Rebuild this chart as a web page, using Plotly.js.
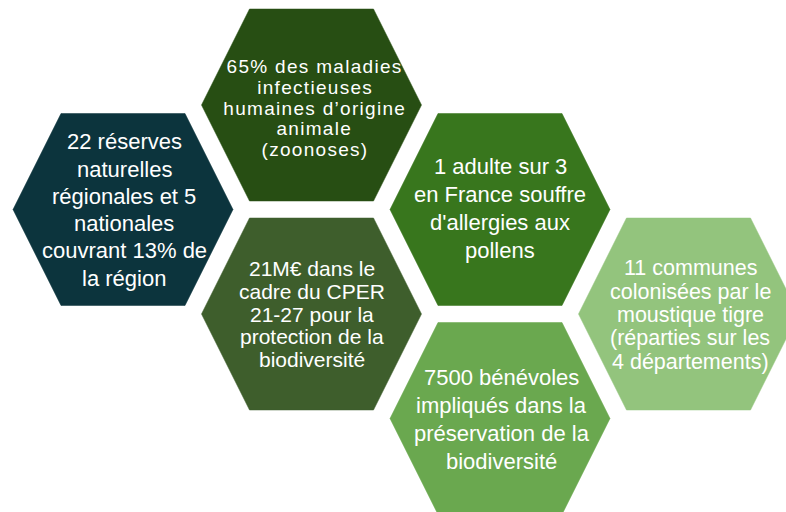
<!DOCTYPE html>
<html>
<head>
<meta charset="utf-8">
<script src="https://cdn.plot.ly/plotly-3.0.1.min.js"></script>
<style>
  html, body { margin: 0; padding: 0; background: #ffffff; }
  #chart { width: 786px; height: 512px; }
</style>
</head>
<body>
<div id="chart"></div>
<script>
// ---- Data: one statement per hexagonal tile ----
const statementLines = [
  ["22 réserves", "naturelles", "régionales et 5", "nationales", "couvrant 13% de", "la région"],
  ["65% des maladies", "infectieuses", "humaines d’origine", "animale", "(zoonoses)"],
  ["21M€ dans le", "cadre du CPER", "21-27 pour la", "protection de la", "biodiversité"],
  ["1 adulte sur 3", "en France souffre", "d'allergies aux", "pollens"],
  ["7500 bénévoles", "impliqués dans la", "préservation de la", "biodiversité"],
  ["11 communes", "colonisées par le", "moustique tigre", "(réparties sur les", "4 départements)"]
];
// honeycomb cell of each tile (column, half-row)
const gridColumn = [0, 1, 1, 2, 2, 3];
const gridRow    = [1, 0, 2, 1, 3, 2];

// ---- Styles ----
const tileColors = ["#0c343d", "#274e13", "#3e5e2c", "#38761d", "#6aa84f", "#93c47d"];
const fontSizes  = [22, 19, 21, 22, 22, 21.5];
const lineGaps   = [27.3, 20.7, 22.8, 27.8, 27.9, 23.3];
const letterSpacings = [0, 1.3, 0, 0, 0, 0];
const textDx = [1, 3, 0.5, 0, 1.5, 1.5];
const textDy = [0.5, 3, 0, -1, 1, 1];

// ---- Geometry ----
const X0 = 123, COL_STEP = 188.5, Y0 = 105, ROW_STEP = 104.5;
const HALF_W = 110, HALF_H = 96, HALF_TOP = 62;

const traces = [];
const annotations = [];
const spacedIdx = [];

for (let i = 0; i < statementLines.length; i++) {
  const cx = X0 + COL_STEP * gridColumn[i];
  const cy = Y0 + ROW_STEP * gridRow[i];
  const xs = [cx - HALF_W, cx - HALF_TOP, cx + HALF_TOP, cx + HALF_W, cx + HALF_TOP, cx - HALF_TOP, cx - HALF_W];
  const ys = [cy, cy - HALF_H, cy - HALF_H, cy, cy + HALF_H, cy + HALF_H, cy];
  traces.push({
    type: "scatter",
    mode: "lines",
    x: xs,
    y: ys,
    fill: "toself",
    fillcolor: tileColors[i],
    line: { color: tileColors[i], width: 0.5 },
    hoverinfo: "skip",
    showlegend: false
  });
  const lines = statementLines[i];
  const n = lines.length;
  for (let k = 0; k < n; k++) {
    if (letterSpacings[i]) spacedIdx.push({ idx: annotations.length, ls: letterSpacings[i] });
    annotations.push({
      x: cx + textDx[i],
      y: cy + textDy[i] + (k - (n - 1) / 2) * lineGaps[i],
      xref: "x",
      yref: "y",
      text: lines[k],
      showarrow: false,
      xanchor: "center",
      yanchor: "middle",
      font: { family: "Liberation Sans, Arial, sans-serif", size: fontSizes[i], color: "#ffffff" }
    });
  }
}

const layout = {
  width: 786,
  height: 512,
  margin: { l: 0, r: 0, t: 0, b: 0, pad: 0 },
  paper_bgcolor: "#ffffff",
  plot_bgcolor: "#ffffff",
  showlegend: false,
  hovermode: false,
  xaxis: { range: [0, 786], visible: false, fixedrange: true },
  yaxis: { range: [512, 0], visible: false, fixedrange: true },
  annotations: annotations
};

Plotly.newPlot("chart", traces, layout, { staticPlot: true, displayModeBar: false }).then(function () {
  const groups = document.querySelectorAll("#chart g.annotation");
  spacedIdx.forEach(function (s) {
    groups.forEach(function (g) {
      if (+g.getAttribute("data-index") === s.idx) {
        const t = g.querySelector("text.annotation-text");
        if (t) t.style.letterSpacing = s.ls + "px";
      }
    });
  });
});
</script>
</body>
</html>
